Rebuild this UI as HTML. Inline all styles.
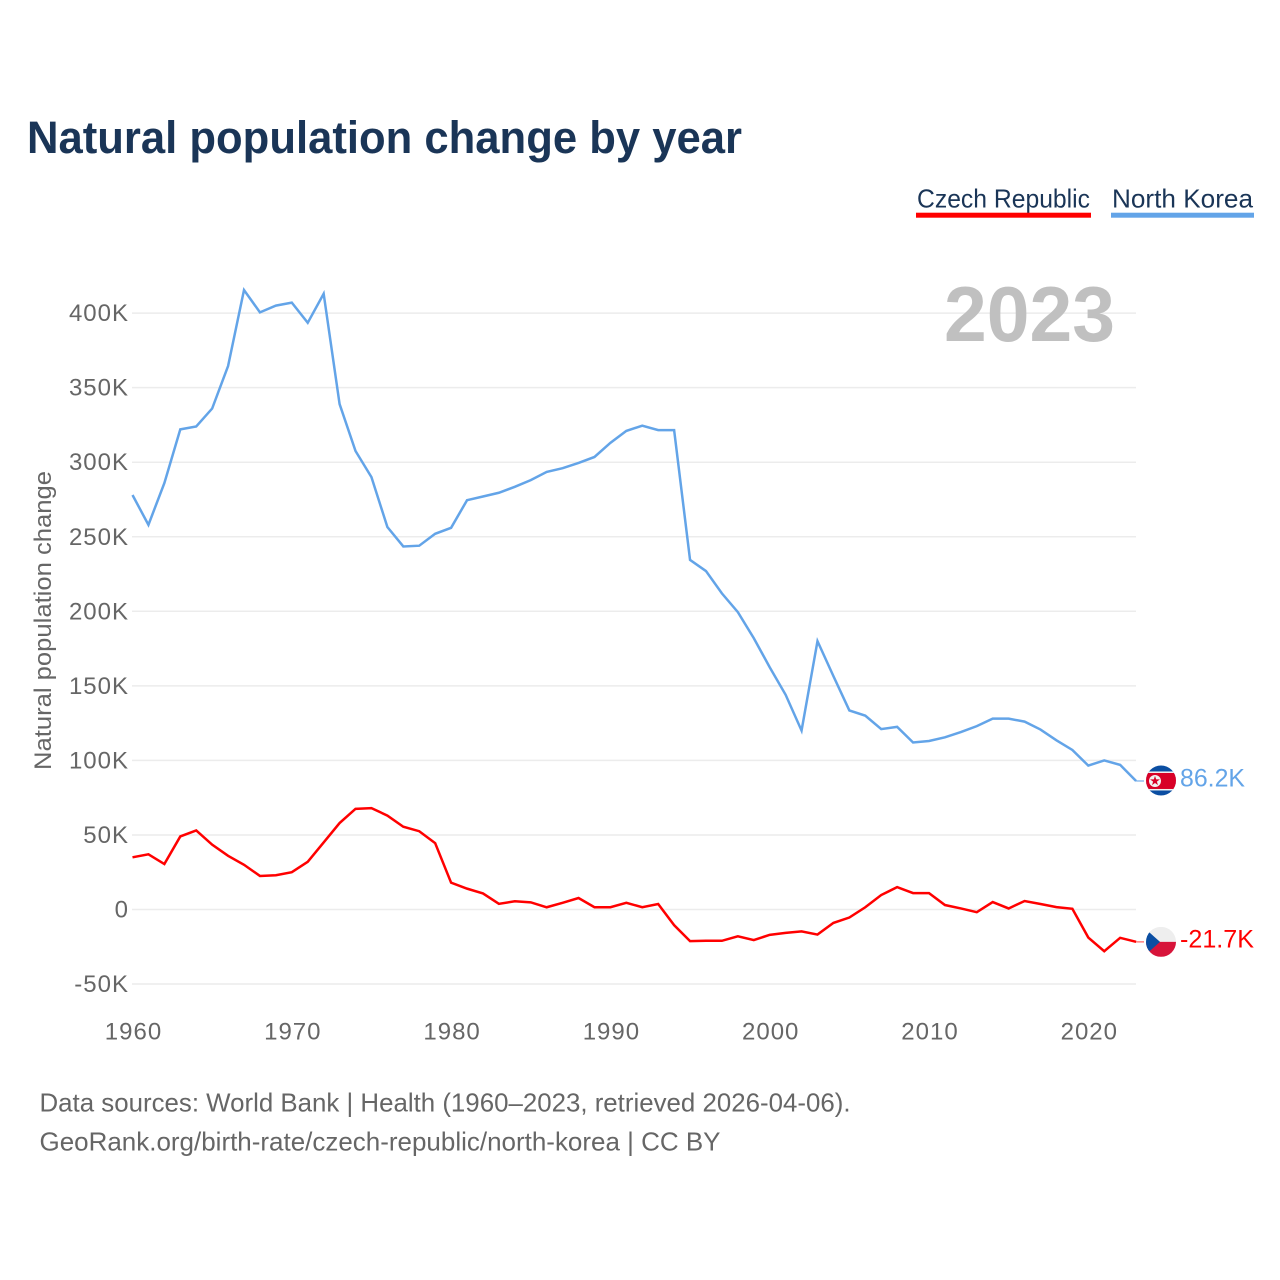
<!DOCTYPE html>
<html lang="en">
<head>
<meta charset="utf-8">
<title>Natural population change by year</title>
<style>
html,body{margin:0;padding:0;background:#fff;}
svg{display:block;font-family:"Liberation Sans",Arial,sans-serif;}
</style>
</head>
<body>
<svg id="chart" xmlns="http://www.w3.org/2000/svg" width="1280" height="1280" viewBox="0 0 1280 1280">
  <rect width="1280" height="1280" fill="#fff"/>
  <text x="27" y="153" font-size="45" font-weight="700" fill="#1a3557" textLength="715" lengthAdjust="spacingAndGlyphs">Natural population change by year</text>

  <g>
    <text x="917" y="207.5" font-size="26" fill="#1a3557" textLength="173" lengthAdjust="spacingAndGlyphs">Czech Republic</text>
    <rect x="916" y="212.7" width="175" height="5" fill="#ff0000"/>
  </g>
  <g>
    <text x="1112" y="207.5" font-size="26" fill="#1a3557" textLength="141" lengthAdjust="spacingAndGlyphs">North Korea</text>
    <rect x="1111" y="212.7" width="143" height="5" fill="#63a4e8"/>
  </g>

  <text transform="translate(51,770) rotate(-90)" font-size="24" fill="#666" textLength="299" lengthAdjust="spacingAndGlyphs">Natural population change</text>

  <g id="grid"></g>
  <g id="yticks"></g>
  <g id="xticks"></g>

  <text x="944" y="341" font-size="78" font-weight="700" fill="#c0c0c0" textLength="171" lengthAdjust="spacingAndGlyphs">2023</text>

  <g id="series"></g>

  <defs>
    <clipPath id="flag-clip"><circle cx="0" cy="0" r="15"/></clipPath>
  </defs>

  <g id="flag-nk">
    <g clip-path="url(#flag-clip)">
      <rect x="-15" y="-15" width="30" height="30" fill="#0b4ea2"/>
      <rect x="-15" y="-9" width="30" height="19" fill="#f1f1f1"/>
      <rect x="-15" y="-7.5" width="30" height="16" fill="#d80027"/>
      <circle cx="-6" cy="0.5" r="6" fill="#f1f1f1"/>
      <polygon points="-6,-4.6 -4.8,-1.1 -1.1,-1.1 -4.1,1.1 -3,4.6 -6,2.5 -9,4.6 -7.9,1.1 -10.9,-1.1 -7.2,-1.1" fill="#d80027"/>
    </g>
  </g>

  <g id="flag-cz">
    <g clip-path="url(#flag-clip)">
      <rect x="-15" y="-15" width="30" height="15" fill="#eeeeee"/>
      <rect x="-15" y="0" width="30" height="15" fill="#d7143a"/>
      <polygon points="-15,-12.5 -1,0 -15,12.5" fill="#0b4ea2"/>
    </g>
  </g>

  <g id="endlabels"></g>

  <text x="39.5" y="1111.5" font-size="26" fill="#666" textLength="811" lengthAdjust="spacingAndGlyphs">Data sources: World Bank | Health (1960–2023, retrieved 2026-04-06).</text>
  <text x="39.5" y="1150.5" font-size="26" fill="#666" textLength="681" lengthAdjust="spacingAndGlyphs">GeoRank.org/birth-rate/czech-republic/north-korea | CC BY</text>
</svg>

<script>
const startYear = 1960;
const yTickValues = [-50, 0, 50, 100, 150, 200, 250, 300, 350, 400];
const yTickLabels = ['-50K', '0', '50K', '100K', '150K', '200K', '250K', '300K', '350K', '400K'];
const xTickYears = [1960, 1970, 1980, 1990, 2000, 2010, 2020];
const xTickLabels = ['1960', '1970', '1980', '1990', '2000', '2010', '2020'];
const northKorea = [278, 258, 286, 322, 324, 336, 364.5, 415.5, 400.5, 405, 407, 393.5, 413, 339, 307.5, 290, 256.5, 243.5, 244, 252, 256, 274.5, 277, 279.5, 283.5, 288, 293.5, 296, 299.5, 303.5, 313, 321, 324.5, 321.5, 321.5, 234.5, 227, 212, 199.5, 182, 162.5, 144, 120, 180, 156.5, 133.5, 130, 121, 122.5, 112, 113, 115.5, 119, 123, 128, 128, 126, 120.7, 113.5, 107, 96.5, 100, 97, 86.2];
const czechRepublic = [35, 37, 30.5, 49, 53, 43.5, 36, 30, 22.5, 23, 25, 32, 45, 58, 67.5, 68, 63, 55.5, 52.5, 44.5, 18, 14, 10.8, 3.8, 5.5, 4.8, 1.5, 4.5, 7.7, 1.5, 1.5, 4.5, 1.5, 3.7, -10.5, -21.2, -21, -21, -18, -20.5, -17, -15.7, -14.7, -16.8, -9, -5.4, 1.5, 9.7, 15, 11, 11, 3, 0.7, -1.8, 5, 0.7, 5.7, 3.7, 1.6, 0.5, -18.8, -28, -19, -21.7];

const NS = 'http://www.w3.org/2000/svg';
const xScale = function (year) { return 132.5 + (year - 1960) * 15.93; };
const yScale = function (value) { return 909.5 - value * 1.491; };
const PLOT_LEFT = 132;
const PLOT_RIGHT = 1136;

function make(tag, parent, attrs) {
  const el = document.createElementNS(NS, tag);
  Object.keys(attrs).forEach(function (k) { el.setAttribute(k, attrs[k]); });
  parent.appendChild(el);
  return el;
}

const grid = document.getElementById('grid');
const yticks = document.getElementById('yticks');
yTickValues.forEach(function (v, i) {
  const y = yScale(v);
  const line = make('line', grid, { x1: PLOT_LEFT, x2: PLOT_RIGHT, y1: y, y2: y, stroke: '#ececec', 'stroke-width': 1.5 });
  
  
  const t = make('text', yticks, { x: 129, y: y + 8, 'text-anchor': 'end', 'font-size': 24, fill: '#666', 'letter-spacing': 1 });
  
  
  t.textContent = yTickLabels[i];
});

const xticks = document.getElementById('xticks');
xTickYears.forEach(function (yr, i) {
  const t = make('text', xticks, { x: xScale(yr) + 1, y: 1039.5, 'text-anchor': 'middle', 'font-size': 24, fill: '#666', 'letter-spacing': 1 });
  
  
  t.textContent = xTickLabels[i];
});

function pathFor(values) {
  return values.map(function (v, i) {
    return (i ? 'L' : 'M') + xScale(startYear + i).toFixed(2) + ' ' + yScale(v).toFixed(2);
  }).join(' ');
}

const seriesGroup = document.getElementById('series');

const lineNk = make('path', seriesGroup, { d: pathFor(northKorea), fill: 'none', stroke: '#63a4e8', 'stroke-width': 2.5, 'stroke-linejoin': 'miter' });



const lineCz = make('path', seriesGroup, { d: pathFor(czechRepublic), fill: 'none', stroke: '#ff0000', 'stroke-width': 2.5, 'stroke-linejoin': 'miter' });



function formatValue(v) { return v.toFixed(1) + 'K'; }

const endGroup = document.getElementById('endlabels');
const lastNk = northKorea[northKorea.length - 1];
const lastCz = czechRepublic[czechRepublic.length - 1];
const endX = xScale(startYear + northKorea.length - 1);

const connNk = make('line', endGroup, { x1: endX, x2: 1144, y1: yScale(lastNk), y2: yScale(lastNk), stroke: '#63a4e8', 'stroke-width': 1.5, opacity: 0.7 });



const connCz = make('line', endGroup, { x1: endX, x2: 1144, y1: yScale(lastCz), y2: yScale(lastCz), stroke: '#ff0000', 'stroke-width': 1.5, opacity: 0.5 });



document.getElementById('flag-nk').setAttribute('transform', 'translate(1161,' + (yScale(lastNk) - 0.5) + ')');
document.getElementById('flag-cz').setAttribute('transform', 'translate(1161,' + yScale(lastCz) + ')');

const labelNk = make('text', endGroup, { x: 1180, y: yScale(lastNk) + 5.5, 'font-size': 25, fill: '#63a4e8', textLength: 65, lengthAdjust: 'spacingAndGlyphs' });


labelNk.textContent = formatValue(lastNk);

const labelCz = make('text', endGroup, { x: 1180, y: yScale(lastCz) + 5.5, 'font-size': 25, fill: '#ff0000', textLength: 74, lengthAdjust: 'spacingAndGlyphs' });


labelCz.textContent = formatValue(lastCz);
</script>
</body>
</html>
